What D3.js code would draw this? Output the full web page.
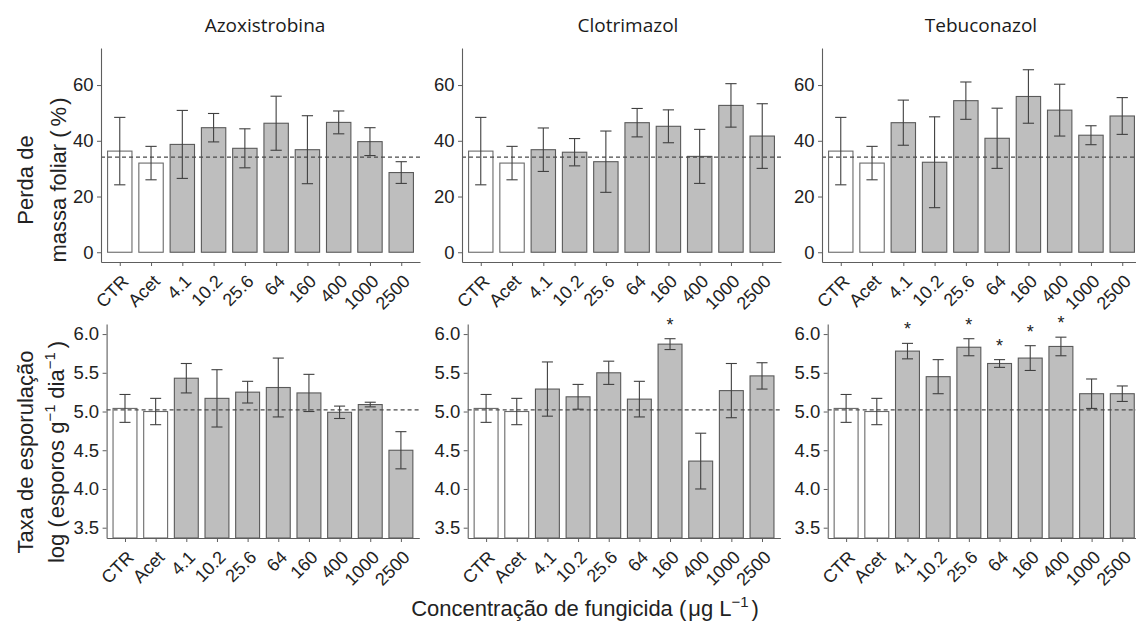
<!DOCTYPE html>
<html>
<head>
<meta charset="utf-8">
<script src="https://cdn.jsdelivr.net/npm/d3@7"></script>
<style>
  html, body { margin: 0; padding: 0; background: #fff; }
  svg { display: block; }
</style>
</head>
<body>
<svg id="chart" width="1136" height="621"></svg>
<script>
// Treatments on the x axis (controls first, then concentrations in µg/L)
const categories = ["CTR", "Acet", "4.1", "10.2", "25.6", "64", "160", "400", "1000", "2500"];
const fungicides = ["Azoxistrobina", "Clotrimazol", "Tebuconazol"];

// Leaf mass loss (%), mean and error
const lossAzo    = [36.3, 32.0, 38.7, 44.7, 37.3, 46.3, 36.8, 46.6, 39.7, 28.6];
const lossAzoErr = [12.1, 6.0, 12.2, 5.1, 7.0, 9.7, 12.2, 4.1, 5.0, 3.9];
const lossClo    = [36.3, 32.0, 36.8, 35.9, 32.5, 46.5, 45.2, 34.4, 52.7, 41.7];
const lossCloErr = [12.1, 6.0, 7.8, 4.9, 11.0, 5.1, 5.9, 9.7, 7.8, 11.6];
const lossTeb    = [36.3, 32.0, 46.5, 32.3, 54.4, 40.9, 55.9, 51.0, 42.0, 48.9];
const lossTebErr = [12.1, 6.0, 8.1, 16.3, 6.7, 10.8, 9.6, 9.3, 3.4, 6.6];

// Sporulation rate, log(spores g-1 day-1), mean and error
const sporAzo    = [5.04, 5.00, 5.43, 5.17, 5.25, 5.31, 5.24, 4.99, 5.09, 4.50];
const sporAzoErr = [0.18, 0.17, 0.19, 0.37, 0.14, 0.38, 0.24, 0.08, 0.03, 0.24];
const sporClo    = [5.04, 5.00, 5.29, 5.19, 5.50, 5.16, 5.87, 4.36, 5.27, 5.46];
const sporCloErr = [0.18, 0.17, 0.35, 0.16, 0.15, 0.23, 0.07, 0.36, 0.35, 0.17];
const sporTeb    = [5.04, 5.00, 5.78, 5.45, 5.83, 5.62, 5.69, 5.84, 5.23, 5.23];
const sporTebErr = [0.18, 0.17, 0.10, 0.22, 0.11, 0.05, 0.16, 0.12, 0.19, 0.10];

// Significant difference from the controls (asterisk)
const sigNone = [0, 0, 0, 0, 0, 0, 0, 0, 0, 0];
const sporCloSig = [0, 0, 0, 0, 0, 0, 1, 0, 0, 0];
const sporTebSig = [0, 0, 1, 0, 1, 1, 1, 1, 0, 0];

// Axis ticks
const lossTicks = [0, 20, 40, 60];
const sporTicks = [3.5, 4.0, 4.5, 5.0, 5.5, 6.0];

const svg = d3.select("#chart");
const FONT = "'Liberation Sans', Arial, sans-serif";
const AXIS_COL = "#5e5e5e";
const TEXT_COL = "#222222";

const rows = [
  {
    top: 48, bottom: 262,
    lefts: [101, 462, 822], rights: [420, 781, 1141],
    domain: [-3.5, 73.3], ticks: lossTicks, fmt: d3.format("d"),
    series: [[lossAzo, lossAzoErr, sigNone], [lossClo, lossCloErr, sigNone], [lossTeb, lossTebErr, sigNone]]
  },
  {
    top: 324, bottom: 538,
    lefts: [106.6, 467.7, 827.7], rights: [419.3, 780.4, 1140.7],
    domain: [3.367, 6.13], ticks: sporTicks, fmt: d3.format(".1f"),
    series: [[sporAzo, sporAzoErr, sigNone], [sporClo, sporCloErr, sporCloSig], [sporTeb, sporTebErr, sporTebSig]]
  }
];

rows.forEach((row, ri) => {
  row.series.forEach(([means, errs, sig], pi) => {
    const x = d3.scalePoint().domain(categories).range([row.lefts[pi], row.rights[pi]]).padding(0.6);
    const y = d3.scaleLinear().domain(row.domain).range([row.bottom, row.top]);
    const step = x.step();
    const barW = step * 0.78;
    const capW = step * 0.36;
    const base = Math.max(0, row.domain[0]);
    const g = svg.append("g");

    const data = categories.map((c, i) => ({ c, i, m: means[i], e: errs[i], s: sig[i] }));

    // bars
    g.selectAll("rect.bar").data(data).join("rect")
      .attr("class", "bar")
      .attr("x", d => x(d.c) - barW / 2)
      .attr("y", d => y(d.m))
      .attr("width", barW)
      .attr("height", d => y(base) - y(d.m))
      .attr("fill", d => d.i < 2 ? "#ffffff" : "#bebebe")
      .attr("stroke", d => d.i < 2 ? "#6a6a6a" : "#5a5a5a")
      .attr("stroke-width", 1.1);

    // reference line: mean of the two controls
    const ref = (means[0] + means[1]) / 2;
    g.append("line")
      .attr("x1", row.lefts[pi]).attr("x2", row.rights[pi])
      .attr("y1", y(ref)).attr("y2", y(ref))
      .attr("stroke", "#4a4a4a").attr("stroke-width", 1.2)
      .attr("stroke-dasharray", "4,3");

    // error bars
    const eb = g.selectAll("g.err").data(data).join("g").attr("class", "err")
      .attr("stroke", "#404040").attr("stroke-width", 1.1);
    eb.append("line")
      .attr("x1", d => x(d.c)).attr("x2", d => x(d.c))
      .attr("y1", d => y(d.m + d.e)).attr("y2", d => y(d.m - d.e));
    eb.append("line")
      .attr("x1", d => x(d.c) - capW / 2).attr("x2", d => x(d.c) + capW / 2)
      .attr("y1", d => y(d.m + d.e)).attr("y2", d => y(d.m + d.e));
    eb.append("line")
      .attr("x1", d => x(d.c) - capW / 2).attr("x2", d => x(d.c) + capW / 2)
      .attr("y1", d => y(d.m - d.e)).attr("y2", d => y(d.m - d.e));

    // significance asterisks
    g.selectAll("text.sig").data(data.filter(d => d.s)).join("text")
      .attr("class", "sig")
      .attr("x", d => x(d.c))
      .attr("y", d => y(d.m + d.e) - 8)
      .attr("text-anchor", "middle")
      .attr("font-family", FONT).attr("font-size", 18)
      .attr("fill", TEXT_COL)
      .text("*");

    // y axis
    const ya = g.append("g")
      .attr("transform", `translate(${row.lefts[pi]},0)`)
      .call(d3.axisLeft(y).tickValues(row.ticks).tickFormat(row.fmt).tickSize(4).tickSizeOuter(0).tickPadding(3.5));
    ya.select(".domain").attr("stroke", AXIS_COL).attr("stroke-width", 1.1);
    ya.selectAll(".tick line").attr("stroke", AXIS_COL);
    ya.selectAll("text").attr("font-family", FONT).attr("font-size", 18.5).attr("fill", TEXT_COL);

    // x axis
    const xa = g.append("g")
      .attr("transform", `translate(0,${row.bottom})`)
      .call(d3.axisBottom(x).tickSize(4).tickSizeOuter(0));
    xa.select(".domain").attr("stroke", AXIS_COL).attr("stroke-width", 1.1);
    xa.selectAll(".tick line").attr("stroke", AXIS_COL);
    xa.selectAll("text")
      .attr("font-family", FONT).attr("font-size", 18).attr("fill", TEXT_COL)
      .attr("x", 0).attr("y", 0).attr("dy", "0.35em")
      .attr("text-anchor", "end")
      .attr("transform", "translate(5,16) rotate(-45)");

    // panel title (top row only)
    if (ri === 0) {
      svg.append("text")
        .attr("x", [265, 628, 981][pi]).attr("y", 31.5)
        .attr("text-anchor", "middle")
        .attr("font-family", "'Open Sans', sans-serif").attr("font-size", 19)
        .attr("fill", "#1a1a1a")
        .text(fungicides[pi]);
    }
  });
});

// y axis titles
function yTitle(lines, cy) {
  lines.forEach(([build, bx]) => {
    const t = svg.append("text")
      .attr("transform", `translate(${bx},${cy}) rotate(-90)`)
      .attr("text-anchor", "middle")
      .attr("font-family", FONT).attr("font-size", 22)
      .attr("fill", TEXT_COL);
    build(t);
  });
}
function sup(t, s) {
  t.append("tspan").attr("dy", -9).attr("font-size", 15).text(s);
  t.append("tspan").attr("dy", 9).text("\u200A");
}

yTitle([
  [t => t.text("Perda de"), 33],
  [t => {
    t.append("tspan").text("massa foliar ");
    t.append("tspan").text("(");
    t.append("tspan").attr("dx", 4).text("%");
    t.append("tspan").attr("dx", 2).text(")");
  }, 66]
], 180);

yTitle([
  [t => t.text("Taxa de esporulação"), 33],
  [t => {
    t.append("tspan").text("log ");
    t.append("tspan").text("(");
    t.append("tspan").attr("dx", 2).text("esporos g");
    sup(t, "\u22121");
    t.append("tspan").attr("dx", 4).text("dia");
    sup(t, "\u22121");
    t.append("tspan").attr("dx", 2).text(")");
  }, 64]
], 452);

// x axis title
const xt = svg.append("text")
  .attr("x", 585).attr("y", 616)
  .attr("text-anchor", "middle")
  .attr("font-family", FONT).attr("font-size", 22)
  .attr("fill", TEXT_COL);
xt.append("tspan").text("Concentração de fungicida ");
xt.append("tspan").text("(");
xt.append("tspan").attr("dx", 2).text("\u03BCg L");
sup(xt, "\u22121");
xt.append("tspan").attr("dx", 1).text(")");
</script>
</body>
</html>
